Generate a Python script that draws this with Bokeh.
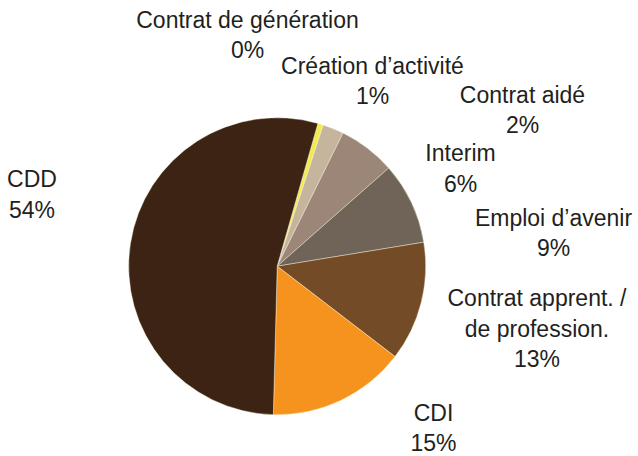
import math
from bokeh.plotting import figure
from bokeh.models import Range1d, ColumnDataSource
from bokeh.core.properties import value
from bokeh.embed import file_html
from bokeh.resources import INLINE

# ---- data ----
categories = ["Contrat de génération", "Création d\u2019activité", "Contrat aidé",
              "Interim", "Emploi d\u2019avenir", "Contrat apprent. /\nde profession.",
              "CDI", "CDD"]
shares = [0.0, 0.6, 2.3, 6.2, 8.9, 13.0, 15.0, 54.0]
colors = ["#F2E94A", "#F3EA4C", "#C5B59C", "#9B8678", "#6F6457", "#734C27",
          "#F6921E", "#3D2314"]

# ---- layout (reference pixel coords, y downward) ----
CX, CY, R = 276.7, 265.7, 148.5
START_DEG = 15.9          # first slice starts this many degrees clockwise from 12 o'clock
label_anchor = [(247, 19), (372, 65), (522, 94), (460, 152.5), (553, 217),
                (536.5, 297.5), (433, 412), (31.5, 178.5)]
LINE_STEP = 30.5
FONT = "Liberation Sans"
FSIZE = "23px"
TXT = "#231F20"

W, H = 638, 456
p = figure(width=W, height=H, output_backend="svg", toolbar_location=None,
           x_range=Range1d(0, W), y_range=Range1d(-H, 0),
           min_border=0, outline_line_color=None)
p.axis.visible = False
p.grid.visible = False
p.background_fill_color = "white"
p.border_fill_color = "white"

total = sum(shares)
starts, ends = [], []
acc = START_DEG
for s in shares:
    a0 = acc
    a1 = acc + 360.0 * s / total
    starts.append(math.radians(90 - a0))
    ends.append(math.radians(90 - a1))
    acc = a1

src = ColumnDataSource(dict(start=starts, end=ends, color=colors))
p.wedge(x=CX, y=-CY, radius=R, start_angle="start", end_angle="end",
        direction="clock", fill_color="color", line_color="white",
        line_width=0.4, source=src)

xs, ys, texts = [], [], []
for name, s, (ax, ay) in zip(categories, shares, label_anchor):
    lines = name.split("\n") + [f"{round(s)}%"]
    for i, ln in enumerate(lines):
        xs.append(ax)
        ys.append(-(ay + i * LINE_STEP))
        texts.append(ln)

p.text(x=xs, y=ys, text=texts, text_font=value(FONT), text_font_size=value(FSIZE),
       text_color=TXT, text_align="center", text_baseline="middle")

open("out.html", "w").write(file_html(p, INLINE))
